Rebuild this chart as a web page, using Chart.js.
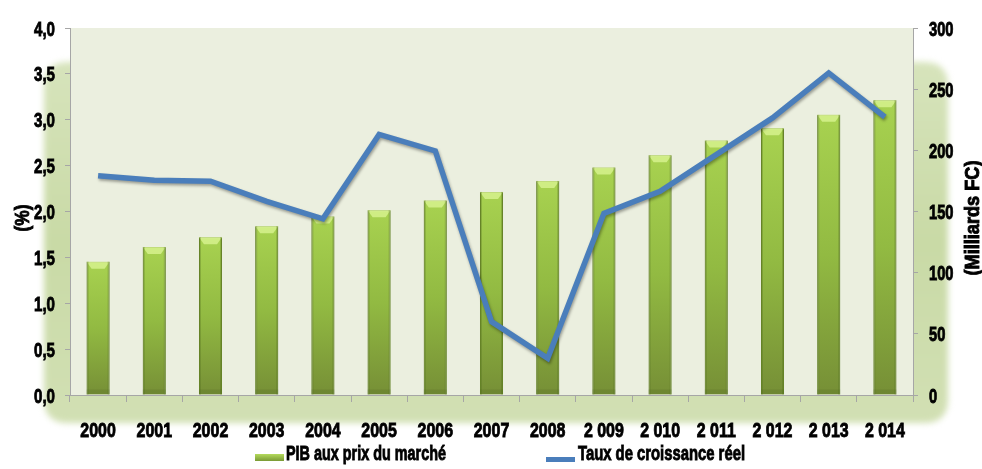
<!DOCTYPE html>
<html>
<head>
<meta charset="utf-8">
<script src="https://cdn.jsdelivr.net/npm/chart.js@4"></script>
<style>
  html, body { margin: 0; padding: 0; background: #fff; }
  #wrap { width: 982px; height: 469px; }
</style>
</head>
<body>
<div id="wrap"><canvas id="myChart" width="982" height="469"></canvas></div>
<script>
const years = ['2000', '2001', '2002', '2003', '2004', '2005', '2006', '2007', '2008', '2 009', '2 010', '2 011', '2 012', '2 013', '2 014'];
const pibValues = [109, 121, 129, 138, 146, 151, 159, 166, 175, 186, 196, 208, 218, 229, 241];
const tauxValues = [2.39, 2.34, 2.33, 2.11, 1.92, 2.84, 2.66, 0.80, 0.40, 1.98, 2.22, 2.62, 3.02, 3.51, 3.03];
const pibLabel = 'PIB aux prix du marché';
const tauxLabel = 'Taux de croissance réel';
const leftTitle = '(%)';
const rightTitle = '(Milliards FC)';

const FONT = '"Liberation Sans", Arial, sans-serif';
const BLUE = '#4a7ebb';

function barFill(context) {
    const chart = context.chart;
    const scale = chart.scales.y1;
    if (!scale || context.raw === undefined) return '#98c044';
    const top = scale.getPixelForValue(context.raw);
    const bottom = scale.getPixelForValue(0);
    if (!Number.isFinite(top) || !Number.isFinite(bottom) || top === bottom) return '#98c044';
    const g = chart.ctx.createLinearGradient(0, top, 0, bottom);
    g.addColorStop(0, '#a8d250');
    g.addColorStop(0.5, '#92ba42');
    g.addColorStop(1, '#768f36');
    return g;
}

function roundRect(ctx, x, y, w, h, r) {
    ctx.beginPath();
    ctx.moveTo(x + r, y);
    ctx.lineTo(x + w - r, y);
    ctx.quadraticCurveTo(x + w, y, x + w, y + r);
    ctx.lineTo(x + w, y + h - r);
    ctx.quadraticCurveTo(x + w, y + h, x + w - r, y + h);
    ctx.lineTo(x + r, y + h);
    ctx.quadraticCurveTo(x, y + h, x, y + h - r);
    ctx.lineTo(x, y + r);
    ctx.quadraticCurveTo(x, y, x + r, y);
    ctx.closePath();
}

// narrow heavy text, squeezed sideways like the original
function narrowText(ctx, text, x, y, align, sx) {
    ctx.save();
    ctx.translate(x, y);
    ctx.scale(sx, 1);
    ctx.textAlign = align;
    ctx.lineWidth = 0.9;
    ctx.strokeStyle = '#000';
    ctx.strokeText(text, 0, 0);
    ctx.fillText(text, 0, 0);
    ctx.restore();
}

function fitText(ctx, text, x, y, align, width) {
    const sx = width / ctx.measureText(text).width;
    narrowText(ctx, text, x, y, align, sx);
}

const decorPlugin = {
    id: 'decor',
    beforeDraw(chart) {
        const { ctx, chartArea } = chart;
        ctx.save();
        const g = ctx.createLinearGradient(0, 60, 0, 425);
        g.addColorStop(0, '#d7e4bc');
        g.addColorStop(0.5, '#c9daa6');
        g.addColorStop(1, '#d2e0b4');
        ctx.fillStyle = g;
        ctx.filter = 'blur(3px)';
        roundRect(ctx, 44, 62, 904, 361, 24);
        ctx.fill();
        ctx.filter = 'none';
        ctx.fillStyle = '#ebefdf';
        ctx.fillRect(chartArea.left, chartArea.top, chartArea.right - chartArea.left, chartArea.bottom - chartArea.top);
        ctx.restore();
    },
    beforeDatasetDraw(chart, args) {
        if (args.index === 1) {
            chart.ctx.save();
            chart.ctx.shadowColor = 'rgba(0,0,0,0.35)';
            chart.ctx.shadowBlur = 3;
            chart.ctx.shadowOffsetX = 1;
            chart.ctx.shadowOffsetY = 2;
        }
    },
    afterDatasetDraw(chart, args) {
        const ctx = chart.ctx;
        if (args.index === 1) {
            ctx.restore();
        }
        if (args.index === 0) {
            ctx.save();
            args.meta.data.forEach(bar => {
                const w = bar.width;
                const l = bar.x - w / 2;
                const r = bar.x + w / 2;
                const t = bar.y;
                const b = bar.base;
                ctx.fillStyle = 'rgba(220,245,150,0.75)';
                ctx.beginPath();
                ctx.moveTo(l, t);
                ctx.lineTo(r, t);
                ctx.lineTo(r - 5, t + 7);
                ctx.lineTo(l + 5, t + 7);
                ctx.closePath();
                ctx.fill();
                ctx.fillStyle = 'rgba(80,105,30,0.3)';
                ctx.fillRect(l, t, 2, b - t);
                ctx.fillRect(r - 2, t, 2, b - t);
                ctx.fillStyle = 'rgba(70,95,25,0.18)';
                ctx.fillRect(l, b - 5, w, 5);
            });
            ctx.restore();
        }
    },
    afterDraw(chart) {
        const ctx = chart.ctx;
        const { x, y, y1 } = chart.scales;
        ctx.save();
        ctx.fillStyle = '#000';
        ctx.textBaseline = 'alphabetic';
        ctx.font = 'bold 21px ' + FONT;

        // tick labels from the scales' own ticks
        y.ticks.forEach((t, i) => {
            const py = y.getPixelForTick(i);
            narrowText(ctx, t.value.toFixed(1).replace('.', ','), 55, py + 7.5, 'right', 0.72);
        });
        y1.ticks.forEach((t, i) => {
            const py = y1.getPixelForTick(i);
            narrowText(ctx, String(t.value), 929, py + 7.5, 'left', 0.7);
        });
        x.ticks.forEach((t, i) => {
            const px = x.getPixelForTick(i);
            narrowText(ctx, years[t.value], px, 437, 'center', 0.76);
        });

        // axis titles
        ctx.font = 'bold 20px ' + FONT;
        ctx.save();
        ctx.translate(29, 218);
        ctx.rotate(-Math.PI / 2);
        fitText(ctx, leftTitle, 0, 0, 'center', 27);
        ctx.restore();
        ctx.save();
        ctx.translate(979, 218);
        ctx.rotate(-Math.PI / 2);
        fitText(ctx, rightTitle, 0, 0, 'center', 115);
        ctx.restore();

        // legend
        const g = ctx.createLinearGradient(0, 454, 0, 461);
        g.addColorStop(0, '#b4da5c');
        g.addColorStop(1, '#7a9a35');
        ctx.fillStyle = g;
        ctx.fillRect(255, 454, 29, 7);
        ctx.fillStyle = BLUE;
        ctx.fillRect(546, 457, 29, 5);
        ctx.fillStyle = '#000';
        ctx.font = 'bold 21px ' + FONT;
        fitText(ctx, pibLabel, 286, 460, 'left', 160);
        fitText(ctx, tauxLabel, 578, 460, 'left', 167);
        ctx.restore();
    }
};

const ctx = document.getElementById('myChart').getContext('2d');
new Chart(ctx, {
    type: 'bar',
    data: {
        labels: years,
        datasets: [
            {
                label: pibLabel,
                data: pibValues,
                yAxisID: 'y1',
                backgroundColor: barFill,
                borderColor: '#6f8e2c',
                borderWidth: 1,
                barPercentage: 0.82,
                categoryPercentage: 0.5,
                order: 1,
            },
            {
                type: 'line',
                label: tauxLabel,
                data: tauxValues,
                yAxisID: 'y',
                borderColor: BLUE,
                borderWidth: 5.5,
                pointRadius: 0,
                tension: 0,
                fill: false,
                order: 0,
            }
        ]
    },
    options: {
        responsive: false,
        animation: false,
        devicePixelRatio: 1,
        layout: { padding: { top: 28, left: 0, right: 0, bottom: 0 } },
        plugins: {
            legend: { display: false },
            tooltip: { enabled: false },
        },
        scales: {
            x: {
                grid: { offset: true, drawOnChartArea: false, color: '#a6a6a6', tickLength: 7 },
                border: { color: '#a6a6a6' },
                ticks: { display: false, autoSkip: false, maxRotation: 0 },
                afterFit(scale) { scale.height = 74; },
            },
            y: {
                position: 'left',
                min: 0,
                max: 4,
                grid: { drawOnChartArea: false, color: '#a6a6a6', tickLength: 5 },
                border: { color: '#a6a6a6' },
                ticks: { display: false, stepSize: 0.5 },
                afterFit(scale) { scale.width = 70; },
            },
            y1: {
                position: 'right',
                min: 0,
                max: 300,
                grid: { drawOnChartArea: false, color: '#a6a6a6', tickLength: 5 },
                border: { color: '#a6a6a6' },
                ticks: { display: false, stepSize: 50 },
                afterFit(scale) { scale.width = 69; },
            }
        }
    },
    plugins: [decorPlugin]
});
</script>
</body>
</html>
